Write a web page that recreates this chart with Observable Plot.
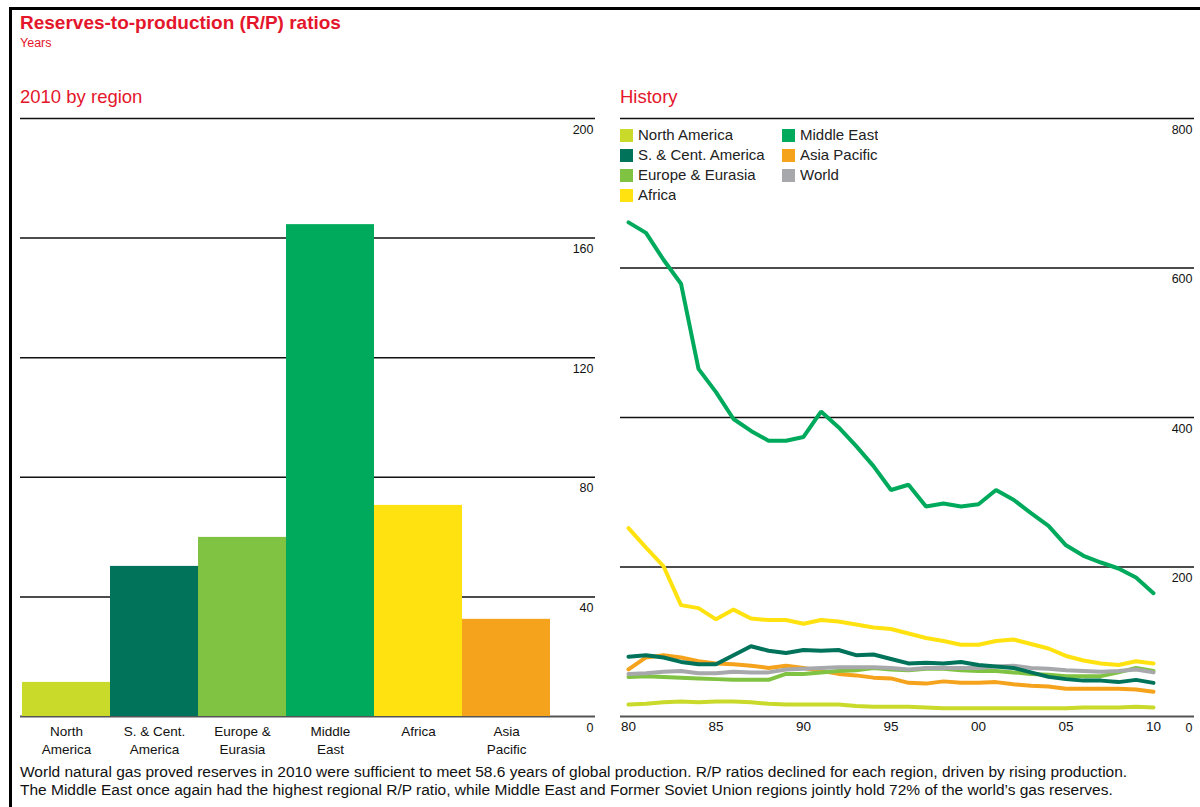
<!DOCTYPE html>
<html><head><meta charset="utf-8">
<script src="https://cdn.jsdelivr.net/npm/d3@7"></script>
<script src="https://cdn.jsdelivr.net/npm/@observablehq/plot@0.6"></script>
<style>
body{margin:0;background:#fff;font-family:"Liberation Sans",Arial,Helvetica,sans-serif;}
#page{position:relative;width:1200px;height:807px;overflow:hidden;background:#fff;}
#frame{position:absolute;left:9px;top:7px;width:1300px;height:900px;border-left:3px solid #000;border-top:3px solid #000;}
.t{position:absolute;color:#e4162b;white-space:nowrap;}
#title{left:20px;top:12px;font-size:19px;font-weight:bold;}
#sub{left:20px;top:36px;font-size:12.5px;}
#h1{left:20px;top:86px;font-size:18.5px;}
#h2{left:620px;top:86px;font-size:18.5px;}
.chart{position:absolute;top:100px;}
#left{left:0;}
#right{left:600px;}
#legend{position:absolute;left:620px;top:125px;width:309px;font-size:15px;color:#222;}
#legend > div{margin:0 !important;min-height:0 !important;}
#legend > div > *{height:20px !important;line-height:20px !important;padding:0 !important;margin:0 !important;}
#legend svg{margin-right:5px !important;}
#caption{position:absolute;left:20px;top:763px;font-size:15.5px;line-height:18px;color:#111;white-space:nowrap;}
</style>
</head><body>
<div id="page">
<div id="frame"></div>
<div class="t" id="title">Reserves-to-production (R/P) ratios</div>
<div class="t" id="sub">Years</div>
<div class="t" id="h1">2010 by region</div>
<div class="t" id="h2">History</div>
<div class="chart" id="left"></div>
<div class="chart" id="right"></div>
<div id="legend"></div>
<div id="caption">World natural gas proved reserves in 2010 were sufficient to meet 58.6 years of global production. R/P ratios declined for each region, driven by rising production.<br>The Middle East once again had the highest regional R/P ratio, while Middle East and Former Soviet Union regions jointly hold 72% of the world’s gas reserves.</div>
</div>
<script>
// ---- 2010 by region ----
const regions = ["North America","S. & Cent. America","Europe & Eurasia","Middle East","Africa","Asia Pacific"];
const regionLabels = ["North\nAmerica","S. & Cent.\nAmerica","Europe &\nEurasia","Middle\nEast","Africa","Asia\nPacific"];
const rp2010 = [11.4, 50.2, 59.9, 164.5, 70.6, 32.5];
const barTicks = [0, 40, 80, 120, 160, 200];

// ---- History ----
const years = [1980,1981,1982,1983,1984,1985,1986,1987,1988,1989,1990,1991,1992,1993,1994,1995,1996,1997,1998,1999,2000,2001,2002,2003,2004,2005,2006,2007,2008,2009,2010];
const northAmerica = [16,17,19,20,19,20,20,19,17,16,16,16,16,14,13,13,13,12,11,11,11,11,11,11,11,11,12,12,12,13,12];
const sCentAmerica = [80,82,79,73,70,70,82,94,88,85,89,88,89,82,83,77,71,72,71,73,69,67,65,59,53,50,48,48,46,49,45];
const europeEurasia = [53,54,53,52,51,50,49,49,49,57,57,59,61,62,65,63,62,64,64,62,61,61,59,57,56,54,54,54,59,65,61];
const middleEast = [661,647,611,579,465,434,398,382,369,369,374,408,387,362,335,303,310,281,285,281,284,303,290,272,255,229,215,206,198,186,165];
const africa = [252,226,201,149,145,130,143,131,129,129,124,129,127,123,119,117,111,105,101,96,96,101,103,97,91,81,75,71,69,74,71];
const asiaPacific = [63,79,82,79,74,71,70,68,65,68,65,61,57,55,52,51,45,44,47,45,45,46,43,41,40,37,37,37,37,36,33];
const world = [57,58,60,61,58,58,60,59,59,63,64,65,66,66,66,65,63,65,65,65,65,67,68,65,64,62,61,60,61,63,59];
const historyTicks = [0, 200, 400, 600, 800];
const yearTicks = [1980,1985,1990,1995,2000,2005,2010];
const yearTickLabels = ["80","85","90","95","00","05","10"];

const legendNames = ["North America","S. & Cent. America","Europe & Eurasia","Africa","Middle East","Asia Pacific","World"];
const seriesColors = {
  "North America":"#c9da2a",
  "S. & Cent. America":"#00735a",
  "Europe & Eurasia":"#80c241",
  "Middle East":"#00aa5c",
  "Africa":"#ffe20f",
  "Asia Pacific":"#f5a21d",
  "World":"#a6a8ab"
};

const font = '"Liberation Sans",Arial,Helvetica,sans-serif';

const bars = regions.map((r, i) => ({region: r, value: rp2010[i]}));
const left = Plot.plot({
  width: 600, height: 660,
  marginLeft: 20, marginRight: 5, marginTop: 18, marginBottom: 44,
  style: {fontFamily: font, fontSize: "12px", color: "#111", background: "transparent", overflow: "visible"},
  x: {domain: regions, range: [20, 551], padding: 0, axis: null},
  y: {domain: [0, 200], axis: null},
  color: {domain: regions, range: regions.map(r => seriesColors[r])},
  marks: [
    Plot.ruleY(barTicks.filter(d => d > 0), {stroke: "#111", strokeWidth: 1.5}),
    Plot.ruleY([0], {stroke: "#555", strokeWidth: 2}),
    Plot.barY(bars, {x: "region", y: "value", fill: "region"}),
    Plot.axisY({ticks: barTicks, anchor: "right", tickSize: 0, tickPadding: 0, textAnchor: "end", dx: -2, dy: 11, label: null, fontSize: 12.5}),
    Plot.axisX({domain: regions, anchor: "bottom", tickSize: 0, tickPadding: 7, label: null, fontSize: 13.5, lineHeight: 1.3,
      tickFormat: d => regionLabels[regions.indexOf(d)]})
  ]
});
document.getElementById("left").append(left);

const seriesOrder = [
  ["North America", northAmerica],
  ["Asia Pacific", asiaPacific],
  ["Europe & Eurasia", europeEurasia],
  ["World", world],
  ["S. & Cent. America", sCentAmerica],
  ["Africa", africa],
  ["Middle East", middleEast]
];
const history = seriesOrder.flatMap(([name, vals]) => years.map((y, i) => ({series: name, year: y, value: vals[i]})));

const right = Plot.plot({
  width: 600, height: 660,
  marginLeft: 20, marginRight: 6, marginTop: 18, marginBottom: 44,
  style: {fontFamily: font, fontSize: "12px", color: "#111", background: "transparent", overflow: "visible"},
  x: {domain: [1980, 2010], range: [28, 553], axis: null},
  y: {domain: [0, 800], axis: null},
  color: {domain: legendNames, range: legendNames.map(n => seriesColors[n])},
  marks: [
    Plot.ruleY(historyTicks.filter(d => d > 0), {stroke: "#111", strokeWidth: 1.5}),
    Plot.ruleY([0], {stroke: "#555", strokeWidth: 2}),
    Plot.lineY(history, {x: "year", y: "value", z: "series", stroke: "series", strokeWidth: 4, strokeLinejoin: "miter"}),
    Plot.axisY({ticks: historyTicks, anchor: "right", tickSize: 0, tickPadding: 0, textAnchor: "end", dx: -2, dy: 11, label: null, fontSize: 12.5}),
    Plot.axisX({ticks: yearTicks, anchor: "bottom", tickSize: 0, tickPadding: 5, label: null, fontSize: 13.5,
      tickFormat: d => yearTickLabels[yearTicks.indexOf(d)]})
  ]
});
document.getElementById("right").append(right);

const legend = Plot.legend({
  color: {domain: legendNames, range: legendNames.map(n => seriesColors[n])},
  columns: 2, swatchSize: 13,
  style: {fontFamily: font, fontSize: "15px", color: "#222"}
});
document.getElementById("legend").append(legend);
</script>
</body></html>
